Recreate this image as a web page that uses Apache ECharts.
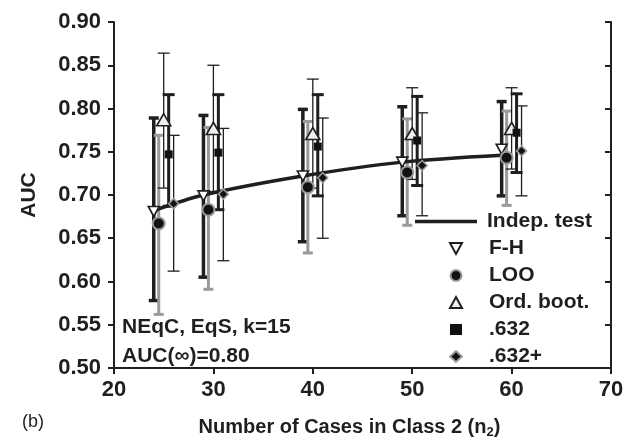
<!DOCTYPE html>
<html>
<head>
<meta charset="utf-8">
<script src="https://cdn.jsdelivr.net/npm/echarts@6/dist/echarts.min.js"></script>
<style>
  html, body { margin: 0; padding: 0; background: #fff; }
  #chart { width: 630px; height: 444px; }
</style>
</head>
<body>
<div id="chart"></div>
<script>
// ===== data =====
const nCases = [25, 30, 40, 50, 60]
const xTicks = [20, 30, 40, 50, 60, 70]
const yTicks = [0.50, 0.55, 0.60, 0.65, 0.70, 0.75, 0.80, 0.85, 0.90]

const indepAUC = [0.682, 0.700, 0.722, 0.738, 0.746]

const fhMean = [0.681, 0.699, 0.722, 0.738, 0.753]
const fhLow  = [0.578, 0.605, 0.646, 0.676, 0.699]
const fhHigh = [0.789, 0.792, 0.799, 0.802, 0.808]

const looMean = [0.667, 0.683, 0.709, 0.726, 0.743]
const looLow  = [0.562, 0.591, 0.633, 0.665, 0.688]
const looHigh = [0.769, 0.778, 0.785, 0.788, 0.797]

const ordMean = [0.787, 0.777, 0.771, 0.771, 0.777]
const ordLow  = [0.708, 0.704, 0.708, 0.718, 0.730]
const ordHigh = [0.864, 0.850, 0.834, 0.824, 0.824]

const b632Mean = [0.747, 0.749, 0.756, 0.763, 0.772]
const b632Low  = [0.687, 0.683, 0.699, 0.711, 0.726]
const b632High = [0.816, 0.816, 0.816, 0.814, 0.817]

const b632pMean = [0.690, 0.701, 0.720, 0.734, 0.751]
const b632pLow  = [0.612, 0.624, 0.650, 0.676, 0.699]
const b632pHigh = [0.769, 0.777, 0.789, 0.795, 0.803]

// horizontal shift of each estimator inside a group (in n units)
const OFFSET = { fh: -1, loo: -0.5, ord: 0, b632: 0.5, b632p: 1 }

const FONT = "'Liberation Sans', Arial, Helvetica, sans-serif"
const INK = '#1f1f1f'
const GRAY = '#9a9a9a'

const pts = (vals, off) => nCases.map((n, i) => [n + off, vals[i]])

// vertical bar with caps, drawn through the axes
const errBar = (name, lo, hi, off, color, width, cap) => ({
    type: 'custom',
    name,
    z: 2,
    silent: true,
    data: nCases.map((n, i) => [n + off, lo[i], hi[i]]),
    encode: { x: 0, y: [1, 2] },
    renderItem: (params, api) => {
        const x = api.value(0)
        const a = api.coord([x, api.value(2)])
        const b = api.coord([x, api.value(1)])
        const style = { stroke: color, lineWidth: width }
        return {
            type: 'group',
            children: [
                { type: 'line', shape: { x1: a[0], y1: a[1], x2: b[0], y2: b[1] }, style },
                { type: 'line', shape: { x1: a[0] - cap, y1: a[1], x2: a[0] + cap, y2: a[1] }, style },
                { type: 'line', shape: { x1: b[0] - cap, y1: b[1], x2: b[0] + cap, y2: b[1] }, style },
            ]
        }
    }
})

const DOWN_TRI = 'path://M0,0 L10,0 L5,9 Z'
const LINE_ICON = 'path://M0,0 L62,0 L62,3.5 L0,3.5 Z'

const chart = echarts.init(document.getElementById('chart'))

const axisLine = { show: true, onZero: false, lineStyle: { color: INK, width: 2 } }
const tickStyle = { color: INK, width: 2 }
const labelStyle = { color: INK, fontSize: 22, fontWeight: 'bold', fontFamily: FONT }
const textBold = { color: INK, fontSize: 21, fontWeight: 'bold', fontFamily: FONT }

chart.setOption({
    animation: false,
    textStyle: { fontFamily: FONT },
    grid: { left: 114, right: 19, top: 22, bottom: 75 },
    xAxis: {
        type: 'value',
        min: xTicks[0],
        max: xTicks[xTicks.length - 1],
        interval: xTicks[1] - xTicks[0],
        axisLine,
        axisTick: { show: true, length: 6, lineStyle: tickStyle },
        splitLine: { show: false },
        axisLabel: { ...labelStyle, margin: 11 },
        name: 'Number of Cases in Class 2 (n{sub|2})',
        nameLocation: 'middle',
        nameGap: 48,
        nameTextStyle: {
            color: INK, fontSize: 20, fontWeight: 'bold', fontFamily: FONT,
            padding: [0, 26, 0, 0],
            rich: { sub: { fontSize: 13, fontWeight: 'bold', fontFamily: FONT, color: INK, padding: [10, 0, 0, 0] } }
        }
    },
    yAxis: [
        {
            type: 'value',
            min: yTicks[0],
            max: yTicks[yTicks.length - 1],
            interval: 0.05,
            axisLine,
            axisTick: { show: true, length: 6, lineStyle: tickStyle },
            splitLine: { show: false },
            axisLabel: { ...labelStyle, margin: 13, formatter: v => v.toFixed(2) },
            name: 'AUC',
            nameLocation: 'middle',
            nameRotate: 90,
            nameGap: 74,
            nameTextStyle: { ...textBold }
        },
        {
            type: 'value',
            position: 'right',
            min: yTicks[0],
            max: yTicks[yTicks.length - 1],
            interval: 0.05,
            axisLine,
            axisTick: { show: true, inside: true, length: 6, lineStyle: tickStyle },
            splitLine: { show: false },
            axisLabel: { show: false }
        }
    ],
    legend: [
        {
            data: [{ name: 'Indep. test', icon: LINE_ICON, itemStyle: { color: INK, borderWidth: 0 } }],
            left: 415, top: 211, padding: 0,
            itemWidth: 62, itemHeight: 4,
            textStyle: { ...textBold, lineHeight: 21, padding: [0, 0, 0, 5] }
        },
        {
            data: ['F-H', 'LOO', 'Ord. boot.', '.632', '.632+'],
            orient: 'vertical',
            left: 449, top: 238, padding: 0,
            itemWidth: 12, itemHeight: 11, itemGap: 6,
            textStyle: { ...textBold, lineHeight: 21, padding: [0, 0, 0, 22] }
        }
    ],
    graphic: [
        { type: 'text', left: 122, top: 317, style: { text: 'NEqC, EqS, k=15', font: `bold 21px ${FONT}`, fill: INK } },
        { type: 'text', left: 122, top: 346, style: { text: 'AUC(\u221e)=0.80', font: `bold 21px ${FONT}`, fill: INK } },
        { type: 'text', left: 22, top: 413, style: { text: '(b)', font: `18px ${FONT}`, fill: INK } }
    ],
    series: [
        errBar('fh-err', fhLow, fhHigh, OFFSET.fh, INK, 3.5, 5),
        errBar('loo-err', looLow, looHigh, OFFSET.loo, GRAY, 3, 5),
        errBar('ord-err', ordLow, ordHigh, OFFSET.ord, INK, 1.3, 6),
        errBar('b632-err', b632Low, b632High, OFFSET.b632, INK, 3, 6),
        errBar('b632p-err', b632pLow, b632pHigh, OFFSET.b632p, INK, 1.3, 6),
        {
            name: 'Indep. test',
            type: 'line',
            z: 3,
            data: pts(indepAUC, OFFSET.fh),
            symbol: 'none',
            smooth: 0.3,
            lineStyle: { color: INK, width: 3.5 },
            itemStyle: { color: INK }
        },
        {
            name: 'F-H', type: 'scatter', z: 4,
            data: pts(fhMean, OFFSET.fh),
            symbol: DOWN_TRI, symbolSize: [11, 10],
            itemStyle: { color: '#fff', borderColor: INK, borderWidth: 1.6, opacity: 1 }
        },
        {
            name: 'LOO', type: 'scatter', z: 4,
            data: pts(looMean, OFFSET.loo),
            symbol: 'circle', symbolSize: 12,
            itemStyle: { color: '#111', borderColor: GRAY, borderWidth: 2, opacity: 1 }
        },
        {
            name: 'Ord. boot.', type: 'scatter', z: 4,
            data: pts(ordMean, OFFSET.ord),
            symbol: 'triangle', symbolSize: [14, 12],
            itemStyle: { color: '#eeeeee', borderColor: INK, borderWidth: 1.6, opacity: 1 }
        },
        {
            name: '.632', type: 'scatter', z: 4,
            data: pts(b632Mean, OFFSET.b632),
            symbol: 'rect', symbolSize: 8,
            itemStyle: { color: '#111', opacity: 1 }
        },
        {
            name: '.632+', type: 'scatter', z: 4,
            data: pts(b632pMean, OFFSET.b632p),
            symbol: 'diamond', symbolSize: 10,
            itemStyle: { color: '#111', borderColor: GRAY, borderWidth: 1.5, opacity: 1 }
        }
    ]
})
</script>
</body>
</html>
